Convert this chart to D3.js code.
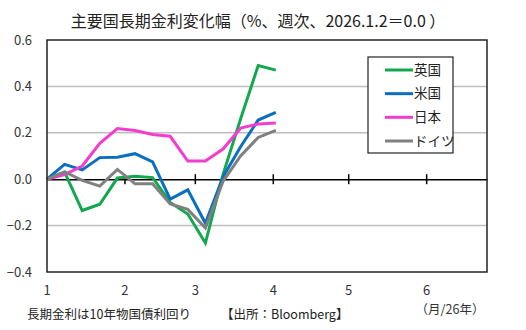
<!DOCTYPE html>
<html><head><meta charset="utf-8">
<script src="https://cdn.jsdelivr.net/npm/d3@7"></script>
<style>
html,body{margin:0;padding:0;background:#fff;}
text{font-family:"Noto Sans CJK JP","Noto Sans",sans-serif;}
</style></head>
<body><svg id="c" width="526" height="330"></svg>
<script>
const dates = ["2026-01-02","2026-01-09","2026-01-16","2026-01-23","2026-01-30","2026-02-06","2026-02-13","2026-02-20","2026-02-27","2026-03-06","2026-03-13","2026-03-20","2026-03-27","2026-04-03"];
const uk = [0, 0.03, -0.135, -0.108, 0.005, 0.013, 0.007, -0.10, -0.15, -0.275, 0.02, 0.26, 0.49, 0.47];
const us = [0, 0.064, 0.04, 0.093, 0.095, 0.11, 0.075, -0.086, -0.046, -0.19, 0.01, 0.14, 0.255, 0.288];
const jp = [0, 0.02, 0.057, 0.155, 0.218, 0.21, 0.193, 0.185, 0.078, 0.078, 0.13, 0.22, 0.238, 0.242];
const de = [0, 0.032, -0.005, -0.03, 0.042, -0.02, -0.02, -0.107, -0.13, -0.21, -0.01, 0.10, 0.18, 0.21];
const seriesNames = ["英国","米国","日本","ドイツ"];
const seriesColors = ["#12A84F","#0B6FBF","#F23DCF","#808080"];
const yTicks = [0.6, 0.4, 0.2, 0.0, -0.2, -0.4];
const xTickDates = ["2026-01-02","2026-02-02","2026-03-02","2026-04-02","2026-05-02","2026-06-02"];
const xTickLabels = ["1","2","3","4","5","6"];
const title = "主要国長期金利変化幅（%、週次、2026.1.2＝0.0 ）";
const unitLabel = "（月/26年）";
const note1 = "長期金利は10年物国債利回り";
const note2 = "【出所：Bloomberg】";

const parse = d3.utcParse("%Y-%m-%d");
const svg = d3.select("#c");
const L = 47, R = 487, T = 40, B = 272;
const x = d3.scaleUtc().domain([parse("2026-01-02"), parse("2026-06-26")]).range([L, R]);
const y = d3.scaleLinear().domain([-0.4, 0.6]).range([B, T]);

// gridlines
svg.append("g").selectAll("line").data(yTicks.filter(v => v !== 0 && v !== 0.6 && v !== -0.4)).join("line")
  .attr("x1", L).attr("x2", R).attr("y1", d => y(d)).attr("y2", d => y(d))
  .attr("stroke", "#bfbfbf").attr("stroke-width", 1.5);

// y labels
svg.append("g").selectAll("text").data(yTicks).join("text")
  .attr("x", 32).attr("y", d => y(d)).attr("dy", "0.35em").attr("text-anchor", "end")
  .attr("font-size", 13).attr("fill", "#333").text(d => d3.format(".1f")(d));

// zero axis with ticks
const xAxis = d3.axisBottom(x).tickValues(xTickDates.map(parse)).tickSize(0).tickFormat("");
const ax = svg.append("g").attr("transform", `translate(0,${y(0)})`).call(xAxis);
ax.select(".domain").attr("stroke", "#000").attr("stroke-width", 1.5);
ax.selectAll(".tick line").remove();
svg.append("g").selectAll("line").data(xTickDates.slice(1).map(parse)).join("line")
  .attr("x1", d => x(d)).attr("x2", d => x(d)).attr("y1", y(0) - 5).attr("y2", y(0) + 5)
  .attr("stroke", "#000").attr("stroke-width", 1.5);

// x labels
svg.append("g").selectAll("text").data(xTickDates).join("text")
  .attr("x", d => x(parse(d))).attr("y", 295).attr("text-anchor", "middle")
  .attr("font-size", 13).attr("fill", "#333").text((d, i) => xTickLabels[i]);
svg.append("text").attr("x", 450).attr("y", 314).attr("text-anchor", "middle")
  .attr("font-size", 12.5).attr("fill", "#333").text(unitLabel);

// lines
const all = [uk, us, jp, de];
const line = d3.line().x((d, i) => x(parse(dates[i]))).y(d => y(d));
svg.append("g").selectAll("path").data(all).join("path")
  .attr("d", d => line(d)).attr("fill", "none")
  .attr("stroke", (d, i) => seriesColors[i]).attr("stroke-width", 3).attr("stroke-linejoin", "miter");

// frame
svg.append("rect").attr("x", L).attr("y", T).attr("width", R - L).attr("height", B - T)
  .attr("fill", "none").attr("stroke", "#222").attr("stroke-width", 1.5);

// legend
const lg = svg.append("g");
lg.append("rect").attr("x", 368).attr("y", 57).attr("width", 85).attr("height", 96)
  .attr("fill", "#fff").attr("stroke", "#222").attr("stroke-width", 1.2);
const ly = d3.scalePoint().domain(seriesNames).range([70, 141]);
lg.selectAll("line").data(seriesNames).join("line")
  .attr("x1", 385).attr("x2", 413).attr("y1", d => ly(d)).attr("y2", d => ly(d))
  .attr("stroke", (d, i) => seriesColors[i]).attr("stroke-width", 3);
lg.selectAll("text").data(seriesNames).join("text")
  .attr("x", 414).attr("y", d => ly(d)).attr("dy", "0.35em")
  .attr("font-size", 13.5).attr("fill", "#222").text(d => d);

// title
svg.append("text").attr("x", 258).attr("y", 27).attr("text-anchor", "middle")
  .attr("font-size", 16).attr("fill", "#222").text(title);

// notes
svg.append("text").attr("x", 27).attr("y", 319).attr("font-size", 12.5).attr("fill", "#222").text(note1);
svg.append("text").attr("x", 221).attr("y", 319).attr("font-size", 12.5).attr("fill", "#222").text(note2);
</script></body></html>
